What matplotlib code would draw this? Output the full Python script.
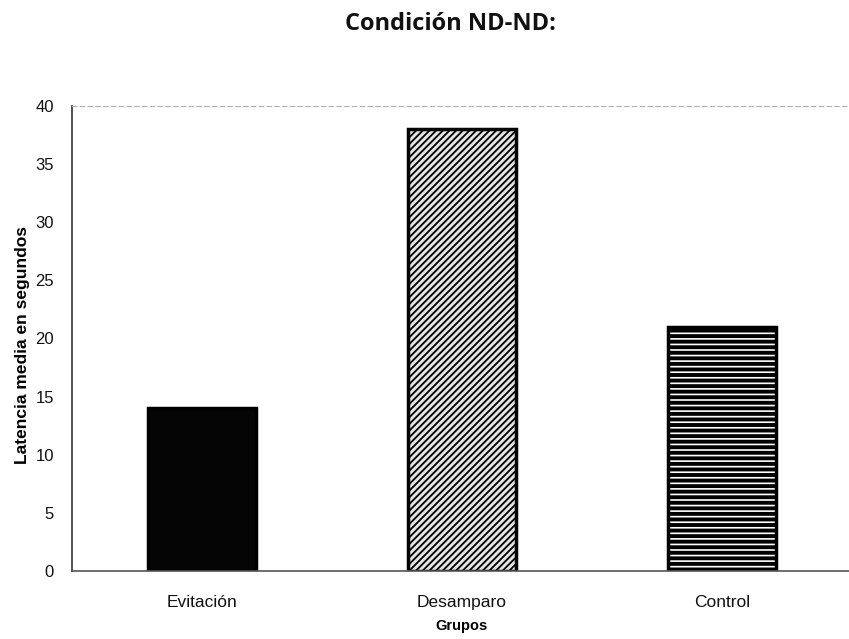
import matplotlib
matplotlib.use("Agg")
import matplotlib.pyplot as plt

grupos = ["Evitación", "Desamparo", "Control"]
latencia = [14, 38, 21]
y_ticks = [0, 5, 10, 15, 20, 25, 30, 35, 40]

plt.rcParams['font.family'] = ['Liberation Sans', 'DejaVu Sans']

fig = plt.figure(figsize=(8.49, 6.39), dpi=100)
ax = fig.add_axes([72 / 849, 1 - 571 / 639, 780 / 849, 465 / 639])

x = range(len(grupos))
bars = ax.bar(x, latencia, width=0.415, edgecolor='black', linewidth=2.5)

styles = [
    dict(facecolor='#050505', hatch=None, hlw=1.0),
    dict(facecolor='#e4e4e4', hatch='/////', hlw=1.3),
    dict(facecolor='white', hatch='---', hlw=2.8),
]
for b, s in zip(bars, styles):
    b.set_facecolor(s['facecolor'])
    if s['hatch']:
        b.set_hatch(s['hatch'])
        if hasattr(b, 'set_hatch_linewidth'):
            b.set_hatch_linewidth(s['hlw'])

ax.set_xlim(-0.5, 2.5)
ax.set_ylim(0, 40)
ax.set_yticks(y_ticks)
ax.set_xticks(list(x))
ax.set_xticklabels(grupos)
ax.tick_params(axis='both', length=0, colors='#111111')
ax.tick_params(axis='y', pad=13, labelsize=12)
ax.tick_params(axis='x', pad=17, labelsize=12.5)

ax.spines['right'].set_visible(False)
ax.spines['top'].set_linestyle((0, (4, 3)))
ax.spines['top'].set_color('#b0b0b0')
ax.spines['top'].set_linewidth(0.8)
ax.spines['left'].set_color('#333333')
ax.spines['left'].set_linewidth(1.2)
ax.spines['bottom'].set_color('#555555')
ax.spines['bottom'].set_linewidth(1.2)

ax.set_ylabel("Latencia media en segundos", fontsize=12.5, fontweight='bold')
ax.yaxis.set_label_coords((30 - 72) / 780, (571 - 345) / 465)
ax.set_xlabel("Grupos", fontsize=10.5, fontweight='bold', labelpad=7)

fig.text(450 / 849, 1 - 24 / 639, "Condición ND-ND:", ha='center', va='center',
         fontsize=17, fontweight='bold', family=['Open Sans', 'DejaVu Sans'], color='#111111')

fig.savefig("out.png", dpi=100)
